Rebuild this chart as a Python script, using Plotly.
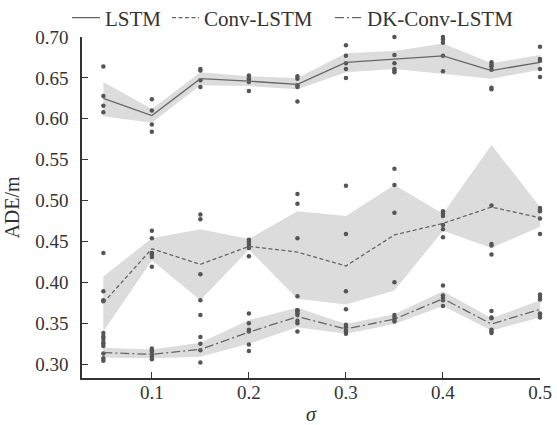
import plotly.graph_objects as go

sigma = [0.05, 0.1, 0.15, 0.2, 0.25, 0.3, 0.35, 0.4, 0.45, 0.5]

# ---- LSTM ----
lstm_mean = [0.625, 0.604, 0.649, 0.646, 0.642, 0.669, 0.673, 0.677, 0.659, 0.669]
lstm_lo = [0.603, 0.595, 0.641, 0.640, 0.636, 0.657, 0.661, 0.655, 0.649, 0.660]
lstm_hi = [0.645, 0.612, 0.657, 0.652, 0.650, 0.680, 0.683, 0.692, 0.668, 0.678]
lstm_pts = [
    [0.664, 0.628, 0.616, 0.608],
    [0.624, 0.610, 0.593, 0.584],
    [0.661, 0.659, 0.647, 0.639],
    [0.653, 0.650, 0.648, 0.645, 0.634],
    [0.652, 0.649, 0.641, 0.639, 0.621],
    [0.690, 0.677, 0.668, 0.661, 0.650],
    [0.700, 0.678, 0.668, 0.661, 0.659, 0.657],
    [0.700, 0.697, 0.693, 0.677, 0.658],
    [0.669, 0.666, 0.664, 0.660, 0.638, 0.636],
    [0.688, 0.673, 0.671, 0.661, 0.651],
]

# ---- Conv-LSTM ----
conv_mean = [0.375, 0.441, 0.422, 0.444, 0.437, 0.420, 0.458, 0.472, 0.492, 0.479]
conv_lo = [0.340, 0.427, 0.378, 0.440, 0.380, 0.373, 0.390, 0.463, 0.442, 0.468]
conv_hi = [0.407, 0.454, 0.465, 0.453, 0.487, 0.481, 0.519, 0.484, 0.568, 0.492]
conv_pts = [
    [0.436, 0.389, 0.378, 0.377],
    [0.463, 0.454, 0.436, 0.434, 0.431, 0.419],
    [0.483, 0.477, 0.410, 0.378],
    [0.452, 0.450, 0.447, 0.444, 0.442, 0.432],
    [0.508, 0.496, 0.454, 0.383, 0.366],
    [0.518, 0.459, 0.389, 0.367],
    [0.539, 0.519, 0.485, 0.400],
    [0.487, 0.484, 0.481, 0.470, 0.465, 0.455],
    [0.494, 0.447, 0.445, 0.434],
    [0.491, 0.489, 0.487, 0.478, 0.459],
]

# ---- DK-Conv-LSTM ----
dk_mean = [0.314, 0.312, 0.318, 0.339, 0.358, 0.343, 0.355, 0.380, 0.349, 0.367]
dk_lo = [0.308, 0.307, 0.309, 0.325, 0.345, 0.337, 0.349, 0.371, 0.341, 0.357]
dk_hi = [0.320, 0.318, 0.326, 0.354, 0.369, 0.349, 0.361, 0.389, 0.356, 0.378]
dk_pts = [
    [0.338, 0.334, 0.331, 0.327, 0.325, 0.322, 0.313, 0.307, 0.304],
    [0.319, 0.317, 0.315, 0.312, 0.309, 0.306],
    [0.360, 0.333, 0.325, 0.317, 0.302],
    [0.362, 0.350, 0.342, 0.340, 0.324, 0.316],
    [0.366, 0.364, 0.362, 0.360, 0.353, 0.350, 0.340],
    [0.348, 0.345, 0.342, 0.340, 0.337],
    [0.360, 0.357, 0.354, 0.352],
    [0.396, 0.384, 0.381, 0.378, 0.371],
    [0.365, 0.357, 0.356, 0.342, 0.340, 0.338],
    [0.385, 0.382, 0.379, 0.362, 0.360, 0.357],
]

y_ticks = [0.30, 0.35, 0.40, 0.45, 0.50, 0.55, 0.60, 0.65, 0.70]
x_ticks = [0.1, 0.2, 0.3, 0.4, 0.5]

FONT = "Liberation Serif"
BAND = "#dcdcdc"
LINE = "#666666"
DOT = "#555555"
TXT = "#333333"

series = [
    ("LSTM", lstm_mean, lstm_lo, lstm_hi, lstm_pts, "solid"),
    ("Conv-LSTM", conv_mean, conv_lo, conv_hi, conv_pts, "4px,2.5px"),
    ("DK-Conv-LSTM", dk_mean, dk_lo, dk_hi, dk_pts, "9px,3px,2px,3px"),
]

# legend placement (paper coordinates): sample start, sample end, text start
legend_pos = [(-0.0218, 0.0393, 0.0459), (0.1965, 0.2555, 0.2620), (0.5524, 0.6135, 0.6179)]
LEG_Y = 1.0528

fig = go.Figure()
for name, mean, lo, hi, pts, dash in series:
    fig.add_trace(go.Scatter(x=sigma, y=hi, mode="lines", line=dict(width=0),
                             showlegend=False, hoverinfo="skip"))
    fig.add_trace(go.Scatter(x=sigma, y=lo, mode="lines", line=dict(width=0),
                             fill="tonexty", fillcolor=BAND,
                             showlegend=False, hoverinfo="skip"))
for name, mean, lo, hi, pts, dash in series:
    px, py = [], []
    for s, vals in zip(sigma, pts):
        for v in vals:
            px.append(s)
            py.append(v)
    fig.add_trace(go.Scatter(x=px, y=py, mode="markers",
                             marker=dict(size=4.5, color=DOT),
                             showlegend=False, cliponaxis=False))
for (name, mean, lo, hi, pts, dash), (x0, x1, xt) in zip(series, legend_pos):
    fig.add_trace(go.Scatter(x=sigma, y=mean, mode="lines", name=name,
                             showlegend=False,
                             line=dict(color=LINE, width=1.3, dash=dash)))
    fig.add_shape(type="line", xref="paper", yref="paper", x0=x0, x1=x1,
                  y0=LEG_Y + 0.004, y1=LEG_Y + 0.004,
                  line=dict(color=LINE, width=1.3, dash=dash))
    fig.add_annotation(xref="paper", yref="paper", x=xt, y=LEG_Y, text=name,
                       showarrow=False, xanchor="left", yanchor="middle",
                       font=dict(family=FONT, size=21, color=TXT))

fig.update_layout(
    width=557, height=425,
    margin=dict(l=82, r=17, t=37, b=47, autoexpand=False),
    paper_bgcolor="white", plot_bgcolor="white",
    font=dict(family=FONT, size=19, color=TXT),
    showlegend=False,
    xaxis=dict(range=[0.028, 0.5], tickvals=x_ticks, tickformat=".1f",
               ticks="inside", ticklen=6, tickcolor="#333", showline=True,
               linecolor="#333", linewidth=1.5, showgrid=False, zeroline=False,
               automargin=False, ticklabelstandoff=-4,
               title=dict(text="<i>σ</i>", font=dict(size=20), standoff=7)),
    yaxis=dict(range=[0.283, 0.70], tickvals=y_ticks, tickformat=".2f",
               ticks="inside", ticklen=6, tickcolor="#333", showline=True,
               linecolor="#333", linewidth=1.5, showgrid=False, zeroline=False,
               automargin=False, ticklabelstandoff=8,
               title=dict(text="ADE/m", font=dict(size=20), standoff=10)),
)

fig.write_html("out.html", config={"displayModeBar": False},
               post_script="document.body.style.margin='0';")
